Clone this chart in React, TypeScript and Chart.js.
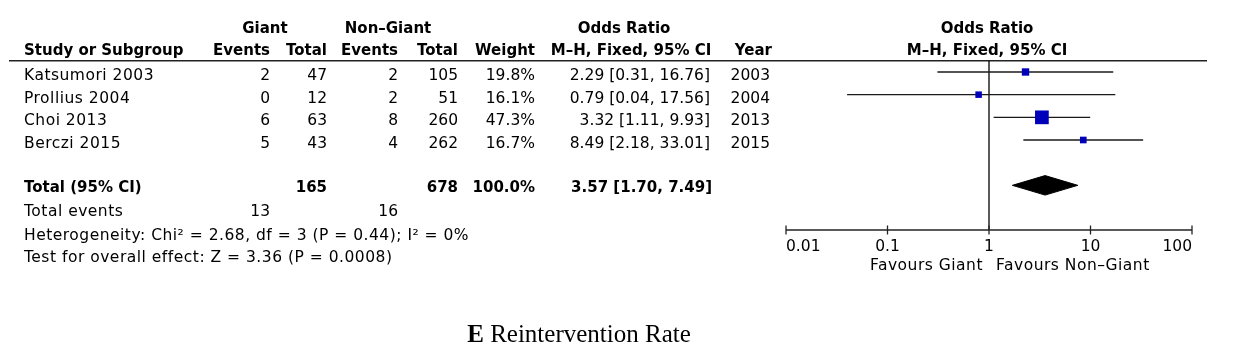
import React, { useEffect, useRef } from "react";
import { Chart, registerables } from "chart.js";

Chart.register(...registerables);

// ---------- data ----------
const studies = ["Katsumori 2003", "Prollius 2004", "Choi 2013", "Berczi 2015"];
const giantEvents = [2, 0, 6, 5];
const giantTotal = [47, 12, 63, 43];
const nonGiantEvents = [2, 2, 8, 4];
const nonGiantTotal = [105, 51, 260, 262];
const weights = [19.8, 16.1, 47.3, 16.7];
const oddsRatios = [2.29, 0.79, 3.32, 8.49];
const ciLow = [0.31, 0.04, 1.11, 2.18];
const ciHigh = [16.76, 17.56, 9.93, 33.01];
const years = [2003, 2004, 2013, 2015];

const totalGiant = 165;
const totalNonGiant = 678;
const totalWeight = "100.0%";
const totalOR = 3.57;
const totalCI = [1.7, 7.49];
const totalEventsGiant = 13;
const totalEventsNonGiant = 16;
const heterogeneityText = "Heterogeneity: Chi² = 2.68, df = 3 (P = 0.44); I² = 0%";
const overallText = "Test for overall effect: Z = 3.36 (P = 0.0008)";

const xTicks = [0.01, 0.1, 1, 10, 100];
const xTickLabels = ["0.01", "0.1", "1", "10", "100"];
const favoursLeft = "Favours Giant";
const favoursRight = "Favours Non–Giant";

// ---------- style ----------
const W = 1241;
const H = 355;
const FAM = "'DejaVu Sans', Verdana, sans-serif";
const REG = `15.5px ${FAM}`;
const BOLD = `bold 15px ${FAM}`;
const TEXT = "#000";

const fmt = (v: number) => v.toFixed(2);

export default function App() {
  const ref = useRef<HTMLCanvasElement>(null);

  useEffect(() => {
    const canvas = ref.current;
    if (!canvas) return;
    const totalRow = studies.length + 1;
    const DH = 0.43;

    const ciSets = studies.map((s, i) => ({
      type: "scatter" as const,
      label: s,
      data: [
        { x: ciLow[i], y: i },
        { x: ciHigh[i], y: i },
      ],
      showLine: true,
      borderColor: "#1a1a1a",
      borderWidth: 1.3,
      pointRadius: 0,
      order: 3,
    }));

    const squares = {
      type: "scatter" as const,
      label: "Odds ratio",
      data: oddsRatios.map((v, i) => ({ x: v, y: i })),
      pointStyle: "rect",
      pointRadius: weights.map((w) => (2.8 + 0.231 * w) / Math.SQRT2),
      backgroundColor: "#0000BB",
      borderColor: "#0000BB",
      borderWidth: 0,
      order: 1,
    };

    const diamond = {
      type: "scatter" as const,
      label: "Total",
      data: [
        { x: totalCI[0], y: totalRow },
        { x: totalOR, y: totalRow - DH },
        { x: totalCI[1], y: totalRow },
        { x: totalOR, y: totalRow + DH },
        { x: totalCI[0], y: totalRow },
      ],
      showLine: true,
      fill: "shape",
      backgroundColor: "#000",
      borderColor: "#000",
      borderWidth: 1,
      pointRadius: 0,
      order: 2,
    };

    const tablePlugin = {
      id: "forestTable",
      beforeDatasetsDraw(chart: any) {
        const { ctx, chartArea } = chart;
        const xs = chart.scales.x;
        ctx.save();
        ctx.strokeStyle = "#222";
        ctx.lineWidth = 1.5;
        // header rule
        ctx.beginPath();
        ctx.moveTo(9, 60.75);
        ctx.lineTo(1207, 60.75);
        ctx.stroke();
        // line of no effect
        const x1 = xs.getPixelForValue(1);
        ctx.strokeStyle = "#000";
        ctx.lineWidth = 1.3;
        ctx.beginPath();
        ctx.moveTo(x1, chartArea.top);
        ctx.lineTo(x1, chartArea.bottom);
        ctx.stroke();
        // axis
        ctx.strokeStyle = "#222";
        ctx.beginPath();
        ctx.moveTo(xs.getPixelForValue(xTicks[0]), chartArea.bottom);
        ctx.lineTo(xs.getPixelForValue(xTicks[xTicks.length - 1]), chartArea.bottom);
        ctx.stroke();
        xTicks.forEach((t) => {
          const px = xs.getPixelForValue(t);
          ctx.beginPath();
          ctx.moveTo(px, chartArea.bottom - 4.5);
          ctx.lineTo(px, chartArea.bottom + 4.5);
          ctx.stroke();
        });
        ctx.restore();
      },
      afterDraw(chart: any) {
        const { ctx, chartArea } = chart;
        const xs = chart.scales.x;
        const ys = chart.scales.y;
        ctx.save();
        ctx.fillStyle = TEXT;
        ctx.textBaseline = "alphabetic";
        const txt = (s: string, x: number, y: number, align: CanvasTextAlign, font: string, spacing = "0px") => {
          ctx.font = font;
          ctx.textAlign = align;
          (ctx as any).letterSpacing = spacing;
          ctx.fillText(s, x, y);
          (ctx as any).letterSpacing = "0px";
        };
        const SP = "0.5px";
        // headers
        const h1 = 32.5;
        const h2 = 55;
        txt("Giant", 265, h1, "center", BOLD);
        txt("Non–Giant", 388, h1, "center", BOLD);
        txt("Odds Ratio", 624, h1, "center", BOLD);
        txt("Odds Ratio", 987, h1, "center", BOLD);
        txt("Study or Subgroup", 24, h2, "left", BOLD);
        txt("Events", 270, h2, "right", BOLD);
        txt("Total", 327, h2, "right", BOLD);
        txt("Events", 398, h2, "right", BOLD);
        txt("Total", 458, h2, "right", BOLD);
        txt("Weight", 535, h2, "right", BOLD);
        txt("M–H, Fixed, 95% CI", 631, h2, "center", BOLD);
        txt("Year", 772, h2, "right", BOLD);
        txt("M–H, Fixed, 95% CI", 987, h2, "center", BOLD);

        const base = (i: number) => ys.getPixelForValue(i) + 8;
        studies.forEach((s, i) => {
          const y = base(i);
          txt(s, 24, y, "left", REG, SP);
          txt(String(giantEvents[i]), 270, y, "right", REG);
          txt(String(giantTotal[i]), 327, y, "right", REG);
          txt(String(nonGiantEvents[i]), 398, y, "right", REG);
          txt(String(nonGiantTotal[i]), 458, y, "right", REG);
          txt(weights[i].toFixed(1) + "%", 535, y, "right", REG);
          txt(`${fmt(oddsRatios[i])} [${fmt(ciLow[i])}, ${fmt(ciHigh[i])}]`, 710, y, "right", REG);
          txt(String(years[i]), 770, y, "right", REG);
        });
        const tr = studies.length + 1;
        const yt = base(tr) - 1.5;
        txt("Total (95% CI)", 24, yt, "left", BOLD);
        txt(String(totalGiant), 327, yt, "right", BOLD);
        txt(String(totalNonGiant), 458, yt, "right", BOLD);
        txt(totalWeight, 535, yt, "right", BOLD);
        txt(`${fmt(totalOR)} [${fmt(totalCI[0])}, ${fmt(totalCI[1])}]`, 712, yt, "right", BOLD);
        const ye = base(tr + 1);
        txt("Total events", 24, ye, "left", REG, SP);
        txt(String(totalEventsGiant), 270, ye, "right", REG);
        txt(String(totalEventsNonGiant), 398, ye, "right", REG);
        txt(heterogeneityText, 24, base(tr + 2) + 1, "left", REG, SP);
        txt(overallText, 24, base(tr + 3) + 1, "left", REG, SP);

        // axis tick labels
        xTicks.forEach((t, i) => {
          const px = xs.getPixelForValue(t);
          const align: CanvasTextAlign = i === 0 ? "left" : i === xTicks.length - 1 ? "right" : "center";
          txt(xTickLabels[i], px, chartArea.bottom + 21, align, REG);
        });
        const x1 = xs.getPixelForValue(1);
        txt(favoursLeft, x1 - 6, chartArea.bottom + 40, "right", REG, SP);
        txt(favoursRight, x1 + 7, chartArea.bottom + 40, "left", REG, SP);

        // caption
        const capE = "E";
        const capRest = " Reintervention Rate";
        const fB = "bold 25px 'Liberation Serif', 'Times New Roman', serif";
        const fR = "25px 'Liberation Serif', 'Times New Roman', serif";
        ctx.font = fB;
        const wE = ctx.measureText(capE).width;
        ctx.font = fR;
        const wR = ctx.measureText(capRest).width;
        const cx = 579;
        const x0 = cx - (wE + wR) / 2;
        txt(capE, x0, 342, "left", fB);
        txt(capRest, x0 + wE, 342, "left", fR);
        ctx.restore();
      },
    };

    const chart = new Chart(canvas, {
      type: "scatter",
      data: { datasets: [...ciSets, squares, diamond] as any },
      options: {
        animation: false,
        responsive: false,
        devicePixelRatio: 1,
        layout: { padding: { left: 786, right: 49, top: 61, bottom: 125 } },
        plugins: {
          legend: { display: false },
          tooltip: { enabled: false },
          title: { display: false },
        },
        scales: {
          x: { type: "logarithmic", min: 0.01, max: 100, display: false },
          y: { type: "linear", min: -0.485, max: 6.97, reverse: true, display: false },
        },
      } as any,
      plugins: [tablePlugin],
    });
    return () => chart.destroy();
  }, []);

  return (
    <div style={{ position: "absolute", left: 0, top: 0, width: W, height: H, background: "#fff" }}>
      <canvas ref={ref} width={W} height={H} style={{ width: W, height: H, display: "block" }} />
    </div>
  );
}
